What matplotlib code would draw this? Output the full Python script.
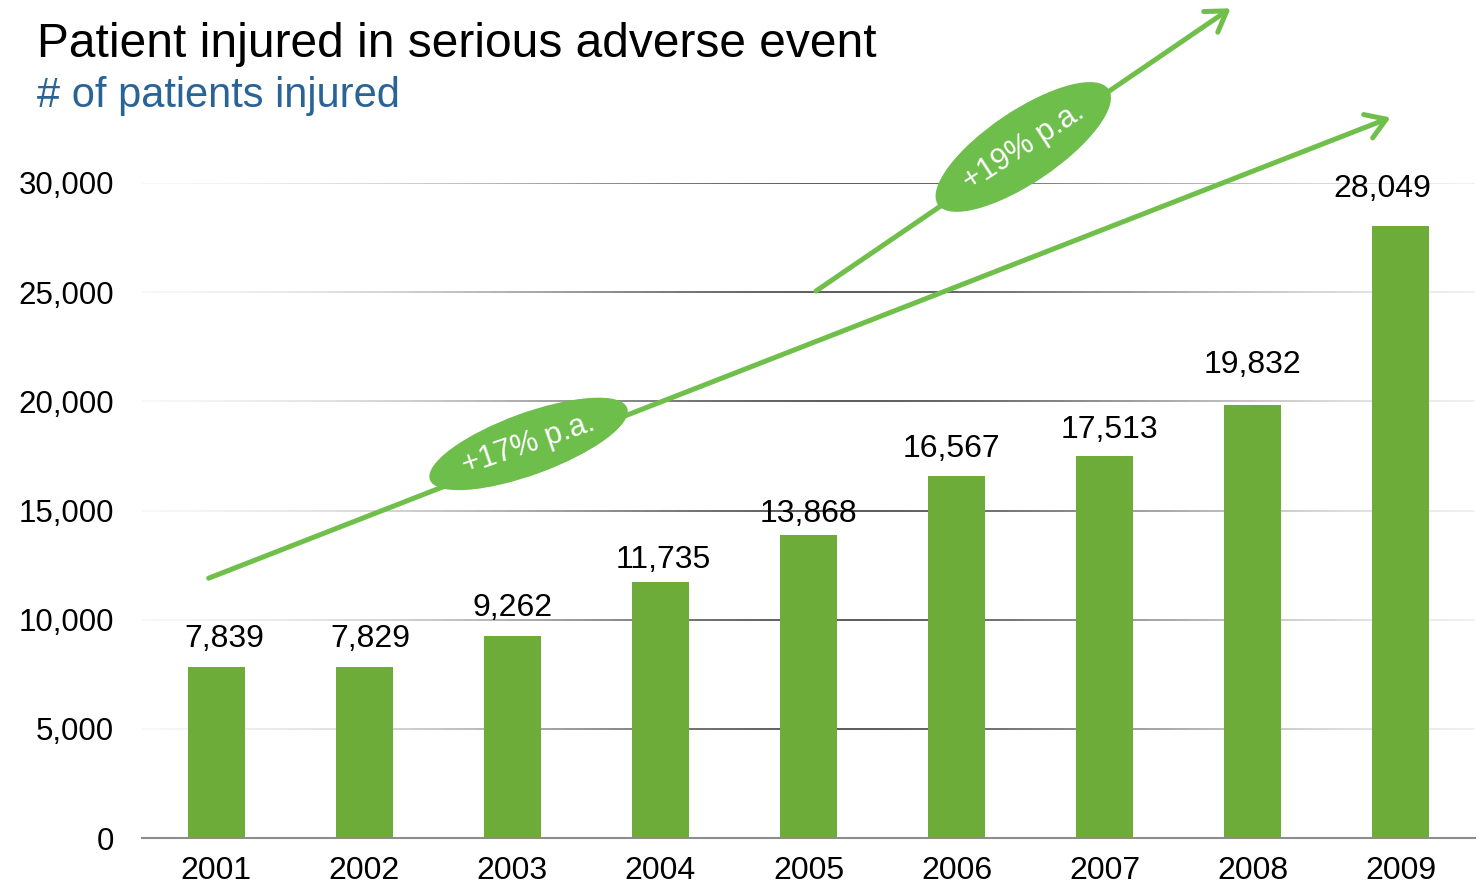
import numpy as np
import matplotlib
matplotlib.use("Agg")
import matplotlib.pyplot as plt
import matplotlib.transforms as mtransforms
from matplotlib.patches import Ellipse
from matplotlib.collections import LineCollection

plt.rcParams['font.family'] = ['Liberation Sans', 'DejaVu Sans']

years = ['2001', '2002', '2003', '2004', '2005', '2006', '2007', '2008', '2009']
injured = [7839, 7829, 9262, 11735, 13868, 16567, 17513, 19832, 28049]
yticks = [0, 5000, 10000, 15000, 20000, 25000, 30000]

# growth arrows (data coords: bar index, value) and their labels
arrow_17 = ((-0.05, 11900), (7.93, 33000))
arrow_19 = ((4.05, 25050), (6.85, 38000))
label_17 = (2.11, 18050, '+17% p.a.', 19, 20)
label_19 = (5.45, 31650, '+19% p.a.', 33, 34)

bar_green = '#6eac3a'
arrow_green = '#70bf4a'

fig = plt.figure(figsize=(14.79, 8.9), dpi=100)
ax = fig.add_axes([0.096, 0.0584, 0.9013, 0.736])

x = np.arange(len(years))
ax.bar(x, injured, width=0.385, color=bar_green, zorder=2)

# value labels, nudged like in the original slide (pixels)
dx = [8, 6, 0, 3, 0, -5, 5, 0, -19]
gap = [20, 20, 20, 14, 13, 19, 18, 32, 29]
for xi, v, ox, oy in zip(x, injured, dx, gap):
    ax.annotate(f'{v:,}', (xi, v), xytext=(ox, oy), textcoords='offset pixels',
                ha='center', va='baseline', fontsize=23, color='black', zorder=3)

ax.set_xlim(-0.5, len(years) - 0.5)
ax.set_ylim(0, 30000)
ax.set_yticks(yticks)
ax.set_yticklabels([f'{t:,}' for t in yticks], fontsize=22.5)
ax.set_xticks(x)
ax.set_xticklabels(years, fontsize=23)
ax.tick_params(axis='y', length=0, pad=20)
ax.tick_params(axis='x', length=0, pad=13)

# gridlines fade out toward both ends
t = np.linspace(0, 1, 200)
tm = (t[:-1] + t[1:]) / 2
shade = 1 - 0.75 * np.exp(-((tm - 0.53) / 0.3) ** 2)
trans = mtransforms.blended_transform_factory(ax.transAxes, ax.transData)
for yv in yticks[1:]:
    segs = [[(a, yv), (b, yv)] for a, b in zip(t[:-1], t[1:])]
    lc = LineCollection(segs, colors=[(s, s, s) for s in shade], linewidths=1.2,
                        transform=trans, zorder=1)
    ax.add_collection(lc)

for s in ['top', 'right', 'left']:
    ax.spines[s].set_visible(False)
ax.spines['bottom'].set_color('#8c8c8c')
ax.spines['bottom'].set_linewidth(1.5)

# arrows
for (start, end) in (arrow_17, arrow_19):
    ax.annotate('', xy=end, xytext=start, annotation_clip=False,
                arrowprops=dict(arrowstyle='->,head_length=0.7,head_width=0.45',
                                mutation_scale=20, lw=3.6, color=arrow_green,
                                shrinkA=0, shrinkB=0, capstyle='round'),
                zorder=4)

# ellipse badges
for (cx, cy, txt, rot, ang), (w, h) in zip((label_17, label_19), ((210, 62), (206, 72))):
    tr = mtransforms.IdentityTransform() + mtransforms.ScaledTranslation(cx, cy, ax.transData)
    e = Ellipse((0, 0), w, h, angle=ang, transform=tr, facecolor='#6dbe4b',
                edgecolor='none', zorder=5, clip_on=False)
    ax.add_patch(e)
    ax.text(cx, cy, txt, rotation=rot, rotation_mode='anchor', ha='center', va='center',
            fontsize=22, color='white', zorder=6, clip_on=False)

fig.text(0.025, 0.9363, 'Patient injured in serious adverse event', fontsize=34.5,
         color='black', ha='left', va='baseline')
fig.text(0.025, 0.8798, '# of patients injured', fontsize=30, color='#2a6496',
         ha='left', va='baseline')

fig.savefig('out.png', dpi=100)
